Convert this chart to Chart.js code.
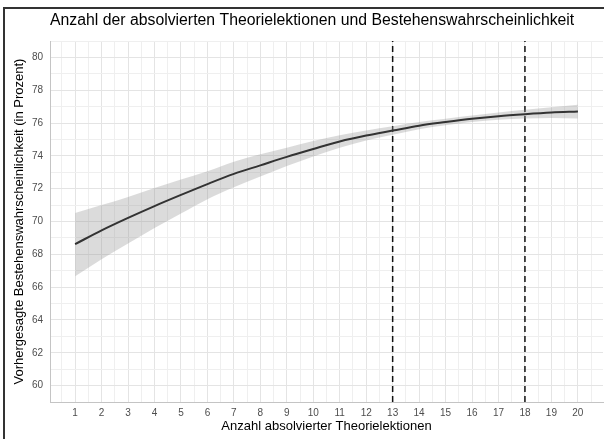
<!DOCTYPE html>
<html>
<head>
<meta charset="utf-8">
<script src="https://cdn.jsdelivr.net/npm/chart.js@4.4.0/dist/chart.umd.min.js"></script>
<style>
  html, body { margin: 0; padding: 0; background: #fff; }
  #wrap { position: relative; width: 604px; height: 439px; }
  canvas { display: block; }
</style>
</head>
<body>
<div id="wrap"><canvas id="c" width="604" height="439"></canvas></div>
<script>
// Number of completed theory lessons
const lessons = [1, 2, 3, 4, 5, 6, 7, 8, 9, 10, 11, 12, 13, 14, 15, 16, 17, 18, 19, 20];
// Predicted pass probability (percent) and its confidence band
const predicted = [68.62, 69.46, 70.22, 70.94, 71.62, 72.28, 72.90, 73.42, 73.94, 74.42, 74.88, 75.24, 75.54, 75.84, 76.06, 76.26, 76.42, 76.54, 76.64, 76.70];
const upperBand = [70.52, 71.00, 71.50, 72.04, 72.56, 73.06, 73.64, 74.10, 74.50, 74.90, 75.26, 75.54, 75.80, 76.06, 76.26, 76.46, 76.64, 76.81, 76.97, 77.12];
const lowerBand = [66.66, 67.70, 68.66, 69.60, 70.48, 71.36, 72.08, 72.74, 73.38, 73.96, 74.50, 74.94, 75.28, 75.62, 75.86, 76.06, 76.20, 76.27, 76.31, 76.28];
// Reference markers on the lesson axis
const markers = [13, 18];
// Axis extents and tick positions
const xRange = [0.05, 20.95];
const yRange = [59, 81];
const yLabels = [60, 62, 64, 66, 68, 70, 72, 74, 76, 78, 80];

const titleText = 'Anzahl der absolvierten Theorielektionen und Bestehenswahrscheinlichkeit';
const xTitle = 'Anzahl absolvierter Theorielektionen';
const yTitle = 'Vorhergesagte Bestehenswahrscheinlichkeit (in Prozent)';

const FONT = '"Liberation Sans", Arial, Helvetica, sans-serif';
const MAJOR = '#e4e4e4';
const MINOR = '#efefef';

const pts = arr => lessons.map((x, i) => ({ x: x, y: arr[i] }));

const xGrid = [];
for (let v = 0.5; v <= 20.5; v += 0.5) xGrid.push(v);
const yGrid = [];
for (let v = yRange[0]; v <= yRange[1]; v++) yGrid.push(v);

const datasets = [
  {
    label: 'lower',
    data: pts(lowerBand),
    borderWidth: 0,
    pointRadius: 0,
    fill: false,
    cubicInterpolationMode: 'monotone'
  },
  {
    label: 'upper',
    data: pts(upperBand),
    borderWidth: 0,
    pointRadius: 0,
    fill: '-1',
    backgroundColor: 'rgba(150,150,150,0.34)',
    cubicInterpolationMode: 'monotone'
  },
  {
    label: 'predicted',
    data: pts(predicted),
    borderColor: '#000',
    borderWidth: 2,
    pointRadius: 0,
    fill: false,
    cubicInterpolationMode: 'monotone'
  }
];
markers.forEach(m => {
  datasets.push({
    label: 'marker ' + m,
    data: [{ x: m, y: yRange[0] }, { x: m, y: yRange[1] }],
    borderColor: '#111',
    borderWidth: 1.5,
    borderDash: [6, 4],
    pointRadius: 0,
    fill: false
  });
});

// Frame on the left and top, plus the left-aligned heading
const decor = {
  id: 'decor',
  beforeDraw(chart) {
    const ctx = chart.ctx;
    ctx.save();
    ctx.fillStyle = '#fff';
    ctx.fillRect(0, 0, chart.width, chart.height);
    ctx.restore();
  },
  afterDraw(chart) {
    const ctx = chart.ctx;
    ctx.save();
    ctx.fillStyle = '#333';
    ctx.fillRect(3, 7, 2, chart.height - 7);
    ctx.fillRect(3, 7, chart.width - 3, 2);
    ctx.fillStyle = '#000';
    ctx.font = '15.8px ' + FONT;
    ctx.textAlign = 'left';
    ctx.textBaseline = 'middle';
    ctx.fillText(titleText, chart.chartArea.left, 21);
    ctx.restore();
  }
};

new Chart(document.getElementById('c'), {
  type: 'line',
  data: { datasets: datasets },
  plugins: [decor],
  options: {
    responsive: false,
    animation: false,
    events: [],
    layout: { padding: { top: 41, right: 1, left: 0, bottom: 0 } },
    plugins: { legend: { display: false }, tooltip: { enabled: false }, title: { display: false } },
    scales: {
      x: {
        type: 'linear',
        min: xRange[0],
        max: xRange[1],
        afterBuildTicks: s => { s.ticks = xGrid.map(v => ({ value: v })); },
        afterFit: s => { s.height = 37; },
        grid: {
          drawTicks: false,
          color: c => (c.tick && Number.isInteger(c.tick.value)) ? MAJOR : MINOR,
          lineWidth: 1
        },
        border: { display: true, color: '#c4c4c4', width: 1 },
        ticks: {
          autoSkip: false,
          maxRotation: 0,
          padding: 5,
          color: '#4d4d4d',
          font: { family: FONT, size: 10 },
          callback: v => lessons.includes(v) ? String(v) : ''
        },
        title: {
          display: true,
          text: xTitle,
          color: '#000',
          font: { family: FONT, size: 13 },
          padding: { top: 0, bottom: 5 }
        }
      },
      y: {
        type: 'linear',
        min: yRange[0],
        max: yRange[1],
        afterBuildTicks: s => { s.ticks = yGrid.map(v => ({ value: v })); },
        afterFit: s => { s.width = 50; },
        grid: {
          drawTicks: false,
          color: c => (c.tick && yLabels.includes(c.tick.value)) ? MAJOR : MINOR,
          lineWidth: 1
        },
        border: { display: true, color: '#c4c4c4', width: 1 },
        ticks: {
          autoSkip: false,
          padding: 7,
          color: '#4d4d4d',
          font: { family: FONT, size: 10 },
          callback: v => yLabels.includes(v) ? String(v) : ''
        },
        title: {
          display: true,
          text: yTitle,
          color: '#000',
          font: { family: FONT, size: 13 },
          padding: { top: 12, bottom: 0 }
        }
      }
    }
  }
});
</script>
</body>
</html>
